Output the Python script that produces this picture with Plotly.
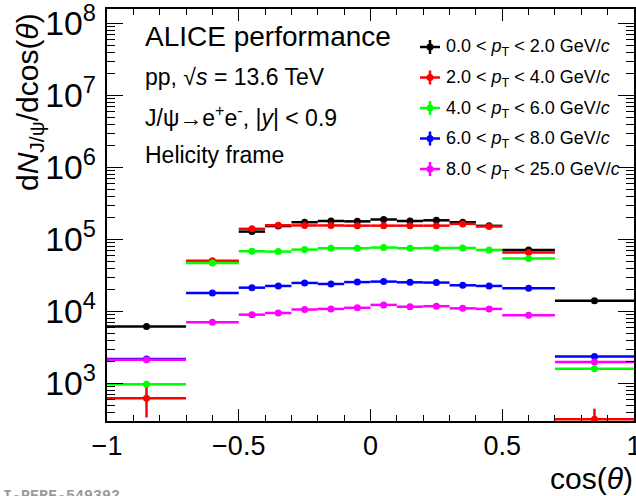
import plotly.graph_objects as go

# ---------------- data ----------------
cos_theta = [-0.85, -0.6, -0.45, -0.35, -0.25, -0.15, -0.05, 0.05, 0.15, 0.25, 0.35, 0.45, 0.6, 0.85]
half_width = [0.15, 0.1, 0.05, 0.05, 0.05, 0.05, 0.05, 0.05, 0.05, 0.05, 0.05, 0.05, 0.1, 0.15]

series_names = [
    "0.0 < <i>p</i><sub>T</sub> < 2.0 GeV/<i>c</i>",
    "2.0 < <i>p</i><sub>T</sub> < 4.0 GeV/<i>c</i>",
    "4.0 < <i>p</i><sub>T</sub> < 6.0 GeV/<i>c</i>",
    "6.0 < <i>p</i><sub>T</sub> < 8.0 GeV/<i>c</i>",
    "8.0 < <i>p</i><sub>T</sub> < 25.0 GeV/<i>c</i>",
]
series_colors = ["#000000", "#ff0000", "#00ff00", "#0000ff", "#ff00ff"]

pt_0_2 = [6200, 49400, 129000, 154000, 174000, 181000, 179000, 190000, 181000, 185000, 174000, 155000, 71800, 14200]
pt_2_4 = [630, 51000, 141000, 158000, 157000, 157000, 156000, 156000, 156000, 156000, 165000, 152000, 65900, 320]
pt_4_6 = [980, 47400, 68900, 68100, 72600, 75800, 75800, 77500, 75800, 76500, 76500, 71800, 54400, 1610]
pt_6_8 = [2200, 18200, 21500, 22700, 25000, 24200, 25700, 26100, 25500, 25300, 23200, 22700, 21100, 2390]
pt_8_25 = [2150, 7100, 9070, 9580, 10700, 10900, 11300, 12400, 11700, 11900, 11100, 10900, 8890, 2000]

err_0_2 = [300, 1500, 3000, 3000, 3000, 3000, 3000, 3000, 3000, 3000, 3000, 3000, 1800, 500]
err_2_4 = [290, 1500, 3000, 3000, 3000, 3000, 3000, 3000, 3000, 3000, 3000, 3000, 1800, 130]
err_4_6 = [90, 1200, 1200, 1200, 1200, 1200, 1200, 1200, 1200, 1200, 1200, 1200, 1200, 120]
err_6_8 = [150, 500, 500, 500, 500, 500, 500, 500, 500, 500, 500, 500, 500, 150]
err_8_25 = [150, 250, 250, 250, 250, 250, 250, 250, 250, 250, 250, 250, 250, 150]

series_values = [pt_0_2, pt_2_4, pt_4_6, pt_6_8, pt_8_25]
series_errors = [err_0_2, err_2_4, err_4_6, err_6_8, err_8_25]

x_ticks = [-1, -0.5, 0, 0.5, 1]
x_tick_labels = ["−1", "−0.5", "0", "0.5", "1"]

# ---------------- layout constants ----------------
W, H = 636, 496
ML, MR, MT, MB = 107, 2, 9, 75
PW, PH = W - ML - MR, H - MT - MB
FONT = "Liberation Sans, Arial, Helvetica, sans-serif"


def px(xp):
    return (xp - ML) / PW


def py(yp):
    return (H - MB - yp) / PH


fig = go.Figure()

for vals, errs, col in zip(series_values, series_errors, series_colors):
    fig.add_trace(go.Scatter(
        x=cos_theta, y=vals, mode="markers",
        marker=dict(color=col, size=7, symbol="circle", line=dict(width=0)),
        error_x=dict(type="data", array=half_width, color=col, thickness=2.5, width=0),
        error_y=dict(type="data", array=errs, color=col, thickness=2.5, width=0),
        showlegend=False, hoverinfo="x+y",
    ))

annotations = []
shapes = []

# text block
info = [
    ("ALICE performance", 37, 28),
    ("pp, √<i>s</i> = 13.6 TeV", 77, 23),
    ("J/ψ→e<sup>+</sup>e<sup>-</sup>, |<i>y</i>| < 0.9", 116, 23),
    ("Helicity frame", 155, 23),
]
for txt, yc, fs in info:
    annotations.append(dict(text=txt, xref="paper", yref="paper", x=px(143), y=py(yc),
                            xanchor="left", yanchor="middle", showarrow=False,
                            font=dict(family=FONT, size=fs, color="black")))

# legend (manual, ROOT style)
leg_y = [47, 77.5, 108, 138.5, 169]
for name, col, yc in zip(series_names, series_colors, leg_y):
    shapes.append(dict(type="line", xref="paper", yref="paper", x0=px(420), x1=px(440),
                       y0=py(yc), y1=py(yc), line=dict(color=col, width=2.5)))
    shapes.append(dict(type="line", xref="paper", yref="paper", x0=px(430), x1=px(430),
                       y0=py(yc - 7), y1=py(yc + 7), line=dict(color=col, width=2.5)))
    shapes.append(dict(type="circle", xref="paper", yref="paper", x0=px(426.5), x1=px(433.5),
                       y0=py(yc - 3.5), y1=py(yc + 3.5), fillcolor=col, line=dict(color=col, width=0)))
    annotations.append(dict(text=name, xref="paper", yref="paper", x=px(444), y=py(yc + 1),
                            xanchor="left", yanchor="middle", showarrow=False,
                            font=dict(family=FONT, size=18, color="black")))

# axis titles
annotations.append(dict(text="d<i>N</i><sub>J/ψ</sub>/dcos(<i>θ</i>)", xref="paper", yref="paper",
                        x=px(29), y=py(102), xanchor="center", yanchor="middle", textangle=-90,
                        showarrow=False, font=dict(family=FONT, size=30, color="black")))
annotations.append(dict(text="cos(<i>θ</i>)", xref="paper", yref="paper",
                        x=px(635), y=py(478), xanchor="right", yanchor="middle",
                        showarrow=False, font=dict(family=FONT, size=30, color="black")))

# watermark
annotations.append(dict(text="<b>ALI-PERF-549392</b>", xref="paper", yref="paper",
                        x=px(-17), y=py(497), xanchor="left", yanchor="middle",
                        showarrow=False, font=dict(family="Liberation Mono, monospace", size=15, color="#9a9a9a")))

fig.update_layout(
    width=W, height=H,
    margin=dict(l=ML, r=MR, t=MT, b=MB, pad=0, autoexpand=False),
    paper_bgcolor="white", plot_bgcolor="white",
    font=dict(family=FONT, color="black"),
    showlegend=False,
    annotations=annotations,
    shapes=shapes,
    xaxis=dict(
        range=[-1, 1], tickvals=x_ticks, ticktext=x_tick_labels, automargin=False,
        ticks="inside", ticklen=12, tickwidth=1, tickcolor="black",
        minor=dict(dtick=0.1, tick0=-1, ticks="inside", ticklen=6, tickwidth=1, tickcolor="black", showgrid=False),
        showline=True, linecolor="black", linewidth=1.5, mirror="ticks",
        showgrid=False, zeroline=False, ticklabeloverflow="allow",
        tickfont=dict(family=FONT, size=27, color="black"),
    ),
    yaxis=dict(
        type="log", range=[2.482, 8.2], dtick=1, exponentformat="power", automargin=False,
        ticks="inside", ticklen=16, tickwidth=1, tickcolor="black",
        minor=dict(dtick="D1", ticks="inside", ticklen=8, tickwidth=1, tickcolor="black", showgrid=False),
        showline=True, linecolor="black", linewidth=1.5, mirror="ticks",
        showgrid=False, zeroline=False, ticklabeloverflow="allow", ticklabelstandoff=4,
        tickfont=dict(family=FONT, size=27, color="black"),
    ),
)

fig.write_html(
    "out.html",
    config={"displayModeBar": False},
    post_script="document.body.style.margin='0px';document.body.style.overflow='hidden';",
)
